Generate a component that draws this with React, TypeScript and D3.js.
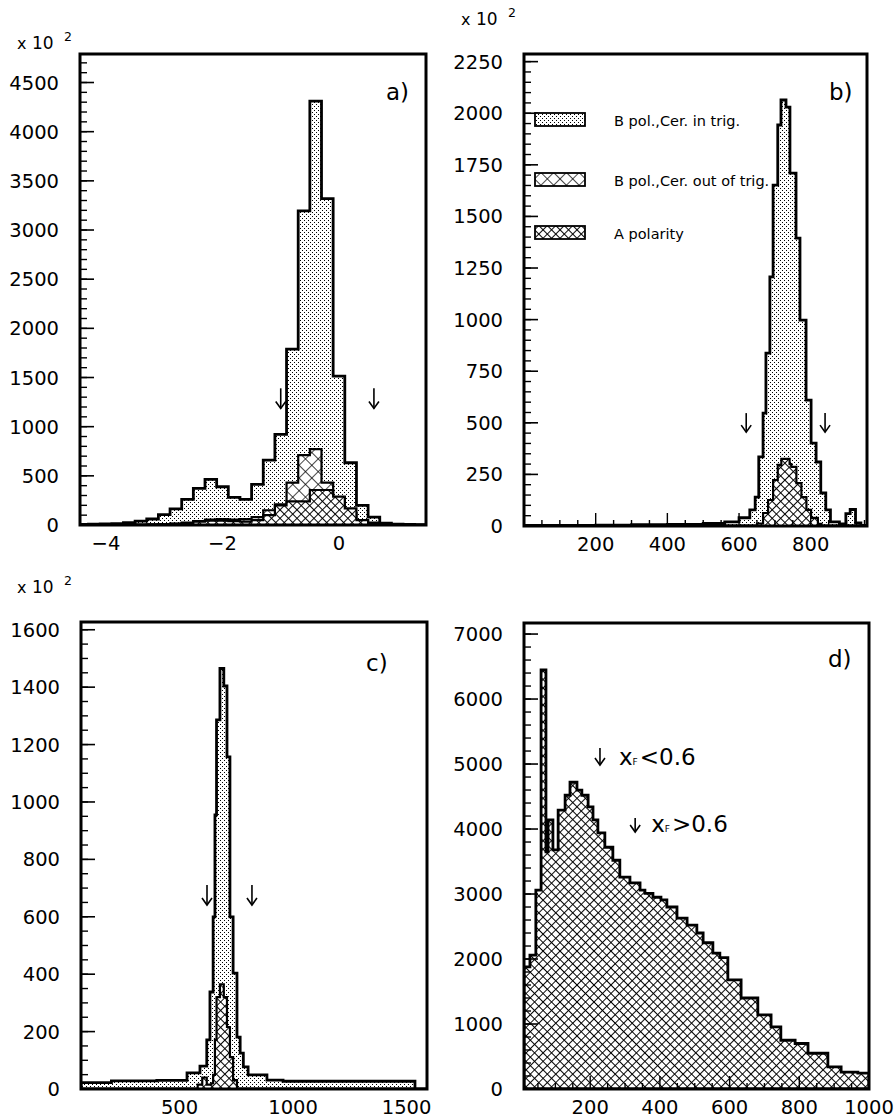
import React from 'react';
import * as d3 from 'd3';

const FONT = "'DejaVu Sans', 'Verdana', sans-serif";

// ---------- Panel a ----------
const aEdges = [-4.5, -4.3, -4.1, -3.9, -3.7, -3.5, -3.3, -3.1, -2.9, -2.7, -2.5, -2.3, -2.1, -1.9, -1.7, -1.5, -1.3, -1.1, -0.9, -0.7, -0.5, -0.3, -0.1, 0.1, 0.3, 0.5, 0.7, 0.9, 1.1, 1.3, 1.5];
const aBTrig = [5, 8, 10, 15, 25, 40, 61, 105, 163, 261, 373, 464, 389, 281, 261, 413, 660, 921, 1788, 3195, 4310, 3320, 1514, 633, 200, 80, 20, 8, 5, 3];
const aBOut = [0, 0, 0, 0, 0, 0, 5, 10, 15, 25, 40, 55, 60, 55, 60, 80, 150, 210, 430, 711, 772, 430, 280, 120, 50, 25, 10, 5, 0, 0];
const aApol = [0, 0, 0, 0, 0, 2, 5, 8, 12, 20, 35, 45, 45, 40, 35, 50, 100, 200, 240, 240, 356, 356, 288, 170, 50, 20, 5, 0, 0, 0];
const aYTicks = [0, 500, 1000, 1500, 2000, 2500, 3000, 3500, 4000, 4500];
const aXTicks = [-4, -2, 0];
const aArrows = [-1.0, 0.6];

// ---------- Panel b ----------
const bEdges = [0, 100, 200, 300, 400, 500, 560, 600, 630, 645, 655, 667, 675, 686, 695, 708, 717, 731, 742, 759, 770, 787, 801, 815, 828, 842, 855, 880, 898, 910, 925, 940, 957];
const bBTrig = [3, 3, 4, 6, 8, 12, 20, 40, 78, 140, 335, 547, 838, 1207, 1652, 1943, 2064, 2030, 1710, 1395, 998, 610, 402, 310, 160, 78, 20, 10, 60, 80, 15, 3];
const bAEdges = [650, 667, 681, 695, 708, 718, 741, 746, 760, 774, 788, 801, 820, 830];
const bApol = [12, 63, 126, 223, 296, 325, 300, 286, 208, 140, 78, 39, 10];
const bYTicks = [0, 250, 500, 750, 1000, 1250, 1500, 1750, 2000, 2250];
const bXTicks = [200, 400, 600, 800];
const bArrows = [620, 840];

// ---------- Panel c ----------
const cEdges = [66, 200, 400, 533, 590, 620, 634, 648, 656, 663, 678, 695, 709, 722, 736, 753, 767, 781, 802, 885, 956, 1537, 1590];
const cBTrig = [22, 28, 30, 56, 80, 171, 338, 600, 955, 1286, 1465, 1404, 1157, 600, 404, 181, 125, 77, 49, 31, 27, 0];
const cAEdges = [580, 600, 620, 640, 648, 656, 663, 678, 695, 709, 722, 736, 753];
const cApol = [15, 40, 15, 20, 49, 171, 320, 365, 320, 216, 111, 31];
const cYTicks = [0, 200, 400, 600, 800, 1000, 1200, 1400, 1600];
const cXTicks = [500, 1000, 1500];
const cArrows = [621, 819];

// ---------- Panel d ----------
const dEdges = [10, 27, 44, 59, 73, 79, 93, 108, 128, 142, 162, 176, 194, 208, 222, 242, 265, 285, 314, 343, 357, 380, 403, 420, 449, 478, 506, 524, 552, 572, 595, 633, 681, 719, 747, 788, 825, 882, 920, 968, 1000];
const dVals = [1880, 2060, 3060, 6450, 3650, 4140, 3680, 4290, 4520, 4720, 4600, 4520, 4340, 4140, 3940, 3720, 3520, 3260, 3170, 3060, 3010, 2950, 2910, 2800, 2630, 2520, 2400, 2250, 2090, 2020, 1680, 1400, 1140, 955, 750, 700, 550, 340, 260, 245];
const dYTicks = [0, 1000, 2000, 3000, 4000, 5000, 6000, 7000];
const dXTicks = [200, 400, 600, 800, 1000];

const legendItems = ['B pol.,Cer. in trig.', 'B pol.,Cer. out of trig.', 'A polarity'];

type Frame = { l: number; r: number; t: number; b: number };

function histPath(edges: number[], vals: number[], x: any, y: any) {
  const pts: [number, number][] = [[edges[0], 0]];
  vals.forEach((v, i) => pts.push([edges[i], v]));
  pts.push([edges[edges.length - 1], 0]);
  const line = d3.line<[number, number]>().x(d => x(d[0])).y(d => y(d[1])).curve(d3.curveStepAfter);
  return line(pts) + 'Z';
}

function Arrow({ x, y1, y2 }: { x: number; y1: number; y2: number }) {
  return (
    <g stroke="#000" strokeWidth={1.6} fill="none">
      <line x1={x} x2={x} y1={y1} y2={y2} />
      <path d={`M${x - 5},${y2 - 7}L${x},${y2}L${x + 5},${y2 - 7}`} />
    </g>
  );
}

function Axes({ f, x, y, yTicks, yMinorStep, xTicks, xLabel, xMinorStep, xMajorStep, showXTicks }: any) {
  const yMax = y.domain()[1];
  const yMinor = d3.range(0, yMax, yMinorStep);
  const xd = x.domain();
  const xMinor = showXTicks ? d3.range(Math.ceil(xd[0] / xMinorStep) * xMinorStep, xd[1], xMinorStep) : [];
  return (
    <g>
      {yMinor.map((v: number) => (
        <line key={'ym' + v} x1={f.l} x2={f.l + 7} y1={y(v)} y2={y(v)} stroke="#000" strokeWidth={1.4} />
      ))}
      {yTicks.map((v: number) => (
        <line key={'yM' + v} x1={f.l} x2={f.l + 14} y1={y(v)} y2={y(v)} stroke="#000" strokeWidth={1.6} />
      ))}
      {yTicks.map((v: number) => (
        <text key={'yl' + v} x={f.l - 21} y={y(v) + 7} textAnchor="end" fontSize={19.5} fontFamily={FONT}>{v}</text>
      ))}
      {xMinor.map((v: number) => {
        const major = Math.abs(v / xMajorStep - Math.round(v / xMajorStep)) < 1e-6;
        return <line key={'xm' + v} x1={x(v)} x2={x(v)} y1={f.b} y2={f.b - (major ? 13 : 6)} stroke="#000" strokeWidth={1.4} />;
      })}
      {xTicks.map((v: number) => (
        <text key={'xl' + v} x={x(v)} y={f.b + 25} textAnchor="middle" fontSize={19.5} fontFamily={FONT}>{xLabel(v)}</text>
      ))}
    </g>
  );
}

function Patterns() {
  return (
    <defs>
      <pattern id="dots" width={4} height={4} patternUnits="userSpaceOnUse">
        <rect width={4} height={4} fill="#fff" />
        <rect x={0} y={0} width={1} height={1} fill="#000" />
        <rect x={2} y={2} width={1} height={1} fill="#000" />
      </pattern>
      <pattern id="xhatch" width={6} height={6} patternUnits="userSpaceOnUse" patternTransform="rotate(45)">
        <rect width={6} height={6} fill="#fff" />
        <path d="M0,0H6M0,0V6" stroke="#000" strokeWidth={1.9} />
      </pattern>
      <pattern id="bighatch" width={9} height={9} patternUnits="userSpaceOnUse" patternTransform="rotate(45)">
        <rect width={9} height={9} fill="#fff" />
        <path d="M0,0H9M0,0V9" stroke="#000" strokeWidth={1.4} />
      </pattern>
    </defs>
  );
}

function Frame({ f }: { f: Frame }) {
  return <rect x={f.l} y={f.t} width={f.r - f.l} height={f.b - f.t} fill="none" stroke="#000" strokeWidth={3} />;
}

function Mult({ x, y }: { x: number; y: number }) {
  return (
    <g fontFamily={FONT}>
      <text x={x} y={y} fontSize={16}>x</text>
      <text x={x + 15} y={y} fontSize={17}>10</text>
      <text x={x + 47} y={y - 8} fontSize={12.5}>2</text>
    </g>
  );
}

function Label({ x, y, t }: { x: number; y: number; t: string }) {
  return <text x={x} y={y} fontSize={23} fontFamily={FONT}>{t}</text>;
}

export default function App() {
  // Panel a
  const fa: Frame = { l: 80, r: 426, t: 54, b: 525 };
  const xa = d3.scaleLinear().domain([-4.446, 1.494]).range([fa.l, fa.r]);
  const ya = d3.scaleLinear().domain([0, 4790]).range([fa.b, fa.t]);
  // Panel b
  const fb: Frame = { l: 524, r: 867, t: 54, b: 526 };
  const xb = d3.scaleLinear().domain([0, 957]).range([fb.l, fb.r]);
  const yb = d3.scaleLinear().domain([0, 2287]).range([fb.b, fb.t]);
  // Panel c
  const fc: Frame = { l: 81, r: 427, t: 622, b: 1089 };
  const xc = d3.scaleLinear().domain([66, 1590]).range([fc.l, fc.r]);
  const yc = d3.scaleLinear().domain([0, 1627]).range([fc.b, fc.t]);
  // Panel d
  const fd: Frame = { l: 524, r: 869, t: 623, b: 1089 };
  const xd = d3.scaleLinear().domain([10, 1000]).range([fd.l, fd.r]);
  const yd = d3.scaleLinear().domain([0, 7170]).range([fd.b, fd.t]);

  const sw = 2.8;
  const fmtA = (v: number) => (v < 0 ? '\u2212' + Math.abs(v) : String(v));
  const fmt = (v: number) => String(v);

  return (
    <svg width={896} height={1120} style={{ position: 'absolute', left: 0, top: 0, background: '#fff' }}>
      <Patterns />
      <rect width={896} height={1120} fill="#fff" />
      <defs>
        {[['ca', fa], ['cb', fb], ['cc', fc], ['cd', fd]].map(([id, f]: any) => (
          <clipPath id={id} key={id}>
            <rect x={f.l} y={f.t} width={f.r - f.l} height={f.b - f.t} />
          </clipPath>
        ))}
      </defs>

      {/* Panel a */}
      <g clipPath="url(#ca)">
        <path d={histPath(aEdges, aBTrig, xa, ya)} fill="url(#dots)" stroke="#000" strokeWidth={sw} />
        <path d={histPath(aEdges, aBOut, xa, ya)} fill="url(#bighatch)" stroke="#000" strokeWidth={2.2} />
        <path d={histPath(aEdges, aApol, xa, ya)} fill="url(#xhatch)" stroke="#000" strokeWidth={2.2} />
      </g>
      <Axes f={fa} x={xa} y={ya} yTicks={aYTicks} yMinorStep={100} xTicks={aXTicks} xLabel={fmtA} showXTicks={false} />
      <Frame f={fa} />
      {aArrows.map(v => <Arrow key={v} x={xa(v)} y1={ya(1390)} y2={ya(1185)} />)}
      <Mult x={17} y={49} />
      <Label x={386} y={100} t="a)" />

      {/* Panel b */}
      <g clipPath="url(#cb)">
        <path d={histPath(bEdges, bBTrig, xb, yb)} fill="url(#dots)" stroke="#000" strokeWidth={sw} />
        <path d={histPath(bAEdges, bApol, xb, yb)} fill="url(#xhatch)" stroke="#000" strokeWidth={2.2} />
      </g>
      <Axes f={fb} x={xb} y={yb} yTicks={bYTicks} yMinorStep={50} xTicks={bXTicks} xLabel={fmt} showXTicks={true} xMinorStep={50} xMajorStep={200} />
      <Frame f={fb} />
      {bArrows.map(v => <Arrow key={v} x={xb(v)} y1={yb(547)} y2={yb(455)} />)}
      <Mult x={461} y={25} />
      <Label x={829} y={100} t="b)" />
      {legendItems.map((t, i) => {
        const yTop = [113, 173, 226][i];
        const fill = ['url(#dots)', 'url(#bighatch)', 'url(#xhatch)'][i];
        return (
          <g key={t}>
            <rect x={535} y={yTop} width={50} height={13} fill={fill} stroke="#000" strokeWidth={1.8} />
            <text x={614} y={yTop + 13} fontSize={14.5} fontFamily={FONT}>{t}</text>
          </g>
        );
      })}

      {/* Panel c */}
      <g clipPath="url(#cc)">
        <path d={histPath(cEdges, cBTrig, xc, yc)} fill="url(#dots)" stroke="#000" strokeWidth={sw} />
        <path d={histPath(cAEdges, cApol, xc, yc)} fill="url(#xhatch)" stroke="#000" strokeWidth={2.2} />
      </g>
      <Axes f={fc} x={xc} y={yc} yTicks={cYTicks} yMinorStep={50} xTicks={cXTicks} xLabel={fmt} showXTicks={false} />
      <Frame f={fc} />
      {cArrows.map(v => <Arrow key={v} x={xc(v)} y1={yc(711)} y2={yc(641)} />)}
      <Mult x={17} y={593} />
      <Label x={366} y={671} t="c)" />

      {/* Panel d */}
      <g clipPath="url(#cd)">
        <path d={histPath(dEdges, dVals, xd, yd)} fill="url(#xhatch)" stroke="#000" strokeWidth={sw} />
      </g>
      <Axes f={fd} x={xd} y={yd} yTicks={dYTicks} yMinorStep={200} xTicks={dXTicks} xLabel={fmt} showXTicks={true} xMinorStep={50} xMajorStep={200} />
      <Frame f={fd} />
      <Label x={828} y={667} t="d)" />
      <Arrow x={xd(228)} y1={yd(5246)} y2={yd(4985)} />
      <text x={xd(228) + 19} y={yd(4985)} fontFamily={FONT} fontSize={23}>
        x<tspan fontSize={9}>F</tspan><tspan dx={2}>&lt;0.6</tspan>
      </text>
      <Arrow x={xd(329)} y1={yd(4170)} y2={yd(3954)} />
      <text x={xd(329) + 16} y={yd(3954)} fontFamily={FONT} fontSize={23}>
        x<tspan fontSize={9}>F</tspan><tspan dx={2}>&gt;0.6</tspan>
      </text>
    </svg>
  );
}
